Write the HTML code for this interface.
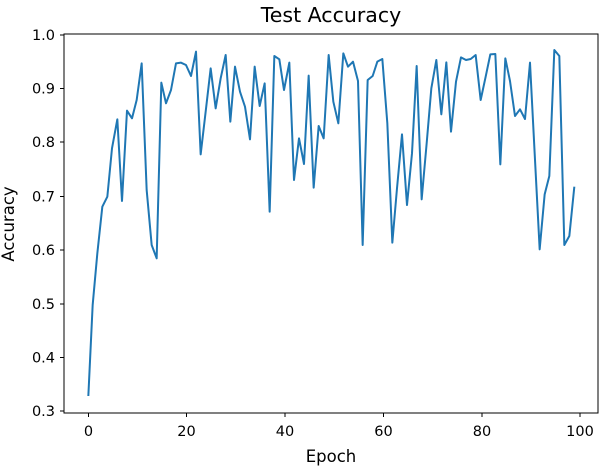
<!DOCTYPE html>
<html><head><meta charset="utf-8"><style>body{margin:0;background:#fff}svg{display:block}text{font-family:"DejaVu Sans","Liberation Sans",sans-serif;fill:#000}</style></head><body>
<svg width="601" height="468" viewBox="0 0 601 468" xmlns="http://www.w3.org/2000/svg">
<rect width="601" height="468" fill="#fff"/>
<g transform="translate(60,20) scale(0.33333)">
<polyline fill="none" stroke="#1f77b4" stroke-width="2" vector-effect="non-scaling-stroke" stroke-linejoin="round" points="85,1128 98,855 112,700 127,560 142,530 156,385 172,298 186,543 201,272 216,295 230,240 245,130 260,510 275,675 290,715 304,188 318,250 333,210 348,130 363,128 378,135 393,168 408,95 422,403 437,275 452,145 467,265 482,175 497,105 511,305 525,140 540,215 555,260 570,358 584,140 599,258 614,190 629,575 643,108 658,118 672,210 688,128 702,480 717,355 732,432 746,167 761,503 776,318 791,355 806,105 820,245 835,310 850,100 864,140 879,125 894,183 908,675 923,180 938,168 952,125 967,117 982,310 997,668 1011,505 1026,343 1041,555 1056,400 1070,138 1085,538 1100,370 1114,205 1129,120 1144,283 1159,127 1173,335 1188,185 1203,112 1218,120 1232,117 1247,105 1262,240 1277,170 1291,103 1306,102 1321,433 1336,115 1350,183 1365,288 1380,268 1395,297 1410,128 1424,400 1439,688 1454,523 1468,468 1483,90 1498,108 1513,675 1528,648 1543,500"/>
</g>
<rect x="64" y="34" width="534" height="379" fill="none" stroke="#000" stroke-width="1"/>
<g stroke="#000" stroke-width="1">
<line x1="88.5" y1="413" x2="88.5" y2="417"/><line x1="186.5" y1="413" x2="186.5" y2="417"/><line x1="285" y1="413" x2="285" y2="417"/><line x1="383.5" y1="413" x2="383.5" y2="417"/><line x1="482" y1="413" x2="482" y2="417"/><line x1="580" y1="413" x2="580" y2="417"/>
<line x1="60" y1="35" x2="64" y2="35"/><line x1="60" y1="88.5" x2="64" y2="88.5"/><line x1="60" y1="142" x2="64" y2="142"/><line x1="60" y1="196.5" x2="64" y2="196.5"/><line x1="60" y1="250" x2="64" y2="250"/><line x1="60" y1="304" x2="64" y2="304"/><line x1="60" y1="357.5" x2="64" y2="357.5"/><line x1="60" y1="411" x2="64" y2="411"/>
</g>
<g font-size="14.5" text-anchor="middle">
<text x="88.5" y="436">0</text><text x="186.5" y="436">20</text><text x="285" y="436">40</text><text x="383.5" y="436">60</text><text x="482" y="436">80</text><text x="580" y="436">100</text>
</g>
<g font-size="14.5" text-anchor="end">
<text x="55" y="40">1.0</text><text x="55" y="93.5">0.9</text><text x="55" y="147">0.8</text><text x="55" y="201.5">0.7</text><text x="55" y="255">0.6</text><text x="55" y="309">0.5</text><text x="55" y="362.5">0.4</text><text x="55" y="416">0.3</text>
</g>
<text x="331" y="462" font-size="16.5" text-anchor="middle">Epoch</text>
<text transform="translate(14,224) rotate(-90)" font-size="16.5" text-anchor="middle">Accuracy</text>
<text x="331" y="22" font-size="20.5" text-anchor="middle">Test Accuracy</text>
</svg>
</body></html>
